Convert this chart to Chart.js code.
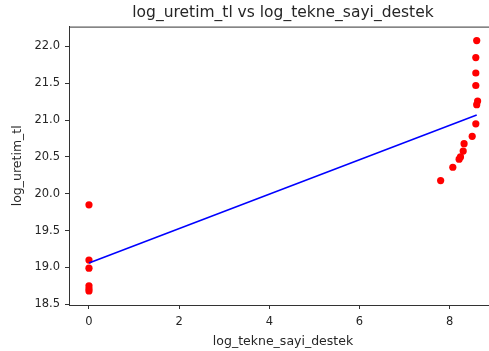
<!DOCTYPE html>
<html>
<head>
<meta charset="utf-8">
<script src="https://cdn.jsdelivr.net/npm/chart.js@4"></script>
<style>
  html, body { margin: 0; padding: 0; background: #fff; overflow: hidden; }
  #wrap { width: 489px; height: 351px; overflow: hidden; }
</style>
</head>
<body>
<div id="wrap"><canvas id="c" width="497" height="351"></canvas></div>
<script>
// log of supported boat count vs log of production value (TL)
const logTekne = [0, 0, 0, 0, 0, 0,
  8.60, 8.58, 8.58, 8.58, 8.62, 8.60, 8.58, 8.50, 8.32, 8.30, 8.24, 8.21, 8.07, 7.80];
const logUretim = [19.85, 19.10, 18.99, 18.75, 18.71, 18.68,
  22.08, 21.85, 21.64, 21.47, 21.26, 21.21, 20.95, 20.78, 20.68, 20.58, 20.50, 20.47, 20.36, 20.18];

// fitted regression line endpoints
const fitX = [0, 8.60];
const fitY = [19.06, 21.07];

const xTicks = [0, 2, 4, 6, 8];
const yTicks = [18.5, 19.0, 19.5, 20.0, 20.5, 21.0, 21.5, 22.0];

const FONT = 'DejaVu Sans';
const INK = '#262626';
const SPINE = '#333333';

// top frame line of the axes box
const topSpine = {
  id: 'topSpine',
  afterDraw(chart) {
    const { ctx, chartArea } = chart;
    ctx.save();
    ctx.strokeStyle = SPINE;
    ctx.lineWidth = 1;
    ctx.beginPath();
    ctx.moveTo(chartArea.left, chartArea.top + 0.5);
    ctx.lineTo(chartArea.right, chartArea.top + 0.5);
    ctx.stroke();
    ctx.restore();
  }
};

new Chart(document.getElementById('c'), {
  type: 'scatter',
  data: {
    datasets: [
      {
        type: 'line',
        label: 'fit',
        data: fitX.map((x, i) => ({ x, y: fitY[i] })),
        borderColor: '#0000ff',
        borderWidth: 1.5,
        pointRadius: 0,
        fill: false,
        order: 0
      },
      {
        label: 'log_uretim_tl',
        data: logTekne.map((x, i) => ({ x, y: logUretim[i] })),
        backgroundColor: '#ff0000',
        borderColor: '#ff0000',
        borderWidth: 0,
        pointRadius: 3.6,
        order: 1
      }
    ]
  },
  options: {
    responsive: false,
    animation: false,
    layout: { padding: 0, autoPadding: false },
    plugins: {
      legend: { display: false },
      tooltip: { enabled: false },
      title: {
        display: true,
        fullSize: false,
        text: 'log_uretim_tl vs log_tekne_sayi_destek',
        color: INK,
        font: { family: FONT, size: 15.5, weight: 'normal' },
        padding: { top: 4, bottom: 4 }
      }
    },
    scales: {
      x: {
        type: 'linear',
        min: -0.443,
        max: 9.05,
        afterBuildTicks: s => { s.ticks = xTicks.map(v => ({ value: v })); },
        afterFit: s => { s.height = 46; },
        ticks: {
          color: INK,
          font: { family: FONT, size: 11.5 },
          padding: 6,
          maxRotation: 0,
          callback: v => String(v)
        },
        grid: { display: true, drawOnChartArea: false, drawTicks: true, tickLength: 4, color: SPINE },
        border: { display: true, color: SPINE, width: 1 },
        title: {
          display: true,
          text: 'log_tekne_sayi_destek',
          color: INK,
          font: { family: FONT, size: 12.5 },
          padding: { top: 0, bottom: 1.5 }
        }
      },
      y: {
        type: 'linear',
        min: 18.49,
        max: 22.27,
        afterBuildTicks: s => { s.ticks = yTicks.map(v => ({ value: v })); },
        afterFit: s => { s.width = 69; },
        ticks: {
          color: INK,
          font: { family: FONT, size: 11.5 },
          padding: 5,
          callback: v => Number(v).toFixed(1)
        },
        grid: { display: true, drawOnChartArea: false, drawTicks: true, tickLength: 4, color: SPINE },
        border: { display: true, color: SPINE, width: 1 },
        title: {
          display: true,
          text: 'log_uretim_tl',
          color: INK,
          font: { family: FONT, size: 12.5 },
          padding: { top: 10.5, bottom: 0 }
        }
      }
    }
  },
  plugins: [topSpine]
});
</script>
</body>
</html>
